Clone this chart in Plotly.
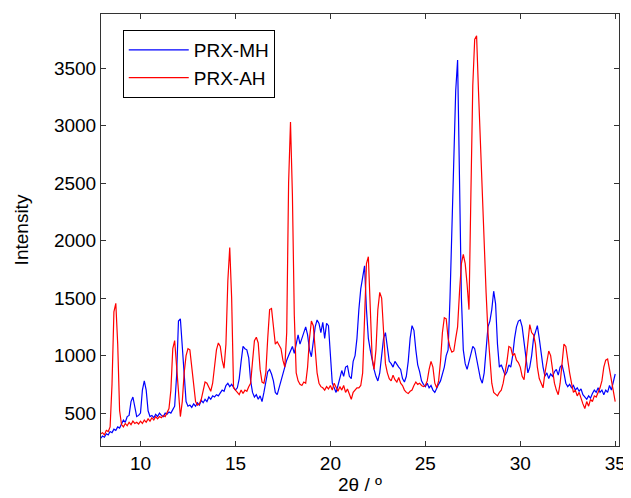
import numpy as np
import plotly.graph_objects as go

# 2-theta sampling positions (deg), 0.1 step from 7.9 to 35.0
two_theta = np.round(np.arange(79, 351) / 10, 1)

# PRX-MH intensity (one row per degree)
prx_mh = [
    280,
    300, 290, 320, 310, 340, 330, 360, 350, 380, 370,          # 8
    410, 440, 420, 470, 480, 600, 640, 540, 470, 480,          # 9
    500, 700, 780, 700, 520, 470, 480, 460, 490, 470,          # 10
    500, 480, 470, 500, 490, 510, 500, 530, 560, 820,          # 11
    1300, 1320, 1100, 800, 600, 560, 570, 550, 580, 560,       # 12
    590, 570, 610, 590, 620, 600, 640, 620, 650, 640,          # 13
    660, 650, 680, 700, 690, 740, 760, 730, 750, 720,          # 14
    700, 720, 800, 950, 1080, 1060, 1050, 980, 780, 680,       # 15
    640, 660, 620, 650, 600, 680, 760, 860, 880, 840,          # 16
    780, 680, 660, 720, 780, 850, 900, 960, 1000, 1040,        # 17
    1080, 1020, 1120, 1180, 1100, 1150, 1200, 1250, 1180, 1050,  # 18
    990, 1150, 1250, 1310, 1280, 1200, 1290, 1150, 1280, 1260,   # 19
    1050, 760, 720, 680, 740, 820, 870, 820, 900, 910,         # 20
    820, 800, 950, 1000, 1150, 1400, 1580, 1680, 1780, 1400,   # 21
    1150, 1050, 950, 880, 820, 780, 850, 1000, 1150, 1200,     # 22
    1050, 950, 930, 900, 950, 920, 900, 880, 800, 770,         # 23
    820, 950, 1150, 1260, 1220, 1050, 920, 860, 780, 750,      # 24
    730, 760, 720, 740, 700, 680, 720, 750, 780, 830,          # 25
    900, 1000, 1050, 1500, 2100, 2800, 3300, 3570, 2600, 1500,  # 26
    1050, 930, 880, 950, 1000, 1080, 1060, 980, 880, 800,      # 27
    760, 850, 1050, 1250, 1300, 1400, 1560, 1450, 1100, 900,   # 28
    920, 880, 830, 860, 920, 900, 1000, 1150, 1250, 1300,      # 29
    1310, 1250, 1100, 950, 850, 900, 1000, 1150, 1200, 1260,   # 30
    1150, 1000, 900, 820, 850, 800, 840, 820, 860, 880,        # 31
    830, 900, 920, 850, 760, 730, 750, 720, 740, 700,          # 32
    720, 690, 710, 660, 640, 620, 650, 630, 670, 700,          # 33
    680, 720, 680, 700, 660, 700, 680, 740, 700, 780,          # 34
    840,
]

# PRX-AH intensity (one row per degree)
prx_ah = [
    320,
    330, 310, 350, 340, 380, 750, 1380, 1455, 1100, 520,       # 8
    400, 380, 410, 390, 420, 400, 430, 410, 420, 405,          # 9
    430, 410, 440, 420, 450, 430, 460, 440, 470, 450,          # 10
    470, 460, 480, 470, 500, 540, 700, 1060, 1130, 900,        # 11
    620, 470, 600, 850, 1000, 1060, 1050, 900, 700, 600,       # 12
    570, 580, 620, 700, 770, 760, 720, 690, 760, 900,          # 13
    1050, 1110, 1080, 960, 890, 1100, 1650, 1940, 1500, 720,   # 14
    700, 690, 660, 700, 670, 700, 690, 730, 760, 950,          # 15
    1130, 1160, 1110, 880, 770, 760, 850, 1150, 1400, 1410,    # 16
    1250, 1100, 1120, 1090, 1060, 960, 900, 1200, 2500, 3030,  # 17
    2400, 1350, 850, 780, 750, 740, 770, 760, 900, 1150,       # 18
    1300, 1260, 1050, 850, 760, 730, 720, 700, 730, 710,       # 19
    740, 700, 760, 720, 690, 730, 700, 740, 680, 710,          # 20
    660, 620, 680, 700, 720, 720, 740, 850, 1400, 1800,        # 21
    1860, 1450, 980, 880, 1050, 1400, 1550, 1500, 1150, 930,   # 22
    850, 800, 780, 830, 790, 770, 810, 760, 740, 700,          # 23
    680, 670, 690, 700, 740, 770, 750, 760, 740, 730,          # 24
    740, 780, 880, 950, 900, 760, 720, 780, 950, 1200,         # 25
    1330, 1320, 1150, 1070, 1030, 1040, 1150, 1250, 1550, 1800,  # 26
    1880, 1800, 1620, 1400, 2400, 3350, 3750, 3780, 3300, 2850,  # 27
    2350, 1950, 1550, 1200, 950, 760, 680, 660, 650, 680,      # 28
    700, 760, 850, 950, 1080, 1070, 1000, 1020, 960, 940,      # 29
    900, 820, 790, 950, 1150, 1270, 1200, 1180, 1100, 900,     # 30
    800, 760, 720, 850, 960, 1040, 1000, 880, 760, 700,        # 31
    660, 760, 950, 1100, 1080, 950, 850, 760, 680, 700,        # 32
    650, 680, 620, 580, 540, 600, 560, 620, 600, 650,          # 33
    640, 680, 720, 780, 900, 960, 970, 880, 780, 680,          # 34
    600,
]

series_names = ["PRX-MH", "PRX-AH"]
series_colors = ["#0000ff", "#ff0000"]

fig = go.Figure()
for name, ys, col in zip(series_names, [prx_mh, prx_ah], series_colors):
    fig.add_trace(go.Scatter(x=two_theta, y=ys, mode="lines", name=name,
                             line=dict(color=col, width=1.2)))

font = dict(family="Liberation Sans, Arial", size=19, color="black")
axis_style = dict(showline=True, linecolor="#333333", linewidth=1, mirror="ticks",
                  ticks="inside", ticklen=5, tickcolor="#333333",
                  showgrid=False, zeroline=False, tickfont=font)

# page body has an 8px margin, so the figure is a bit smaller than the window
fig.update_layout(
    width=623, height=490,
    plot_bgcolor="white", paper_bgcolor="white",
    margin=dict(l=93, r=8, t=5, b=52),
    showlegend=True,
    legend=dict(x=0.042, y=0.963, xanchor="left", yanchor="top",
                bordercolor="black", borderwidth=1, bgcolor="white",
                font=font, tracegroupgap=0, itemwidth=60),
    xaxis=dict(range=[7.92, 35.2], tickvals=[10, 15, 20, 25, 30, 35],
               title=dict(text="2θ / º", standoff=2, font=font), **axis_style),
    yaxis=dict(range=[214, 3970], tickvals=[500, 1000, 1500, 2000, 2500, 3000, 3500],
               title=dict(text="Intensity", standoff=20, font=font), **axis_style),
)

fig.write_html("out.html")
